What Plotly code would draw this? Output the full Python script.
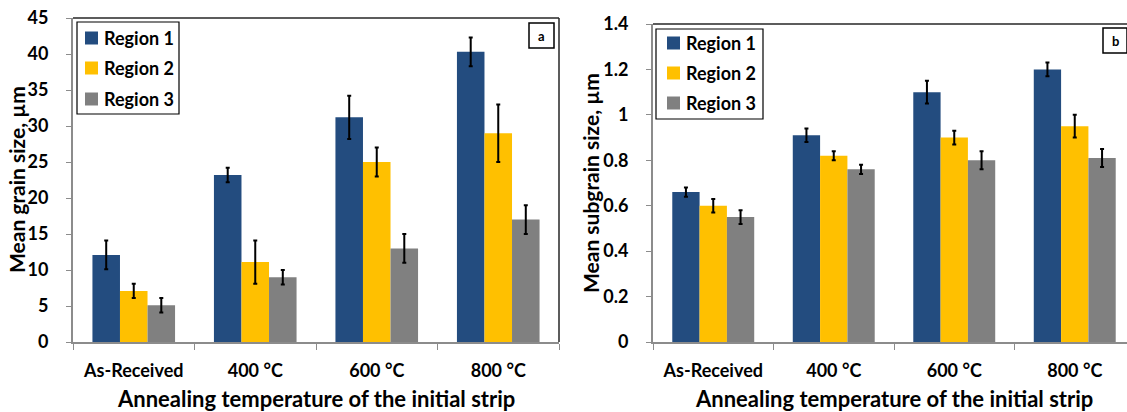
import plotly.graph_objects as go

W, H = 1127, 412

categories = ["As-Received", "400 °C", "600 °C", "800 °C"]
series_names = ["Region 1", "Region 2", "Region 3"]
colors = ["#234C7F", "#FFC000", "#808080"]

# Panel a: mean grain size (µm)
grain_r1 = [12.1, 23.2, 31.2, 40.3]
grain_r2 = [7.1, 11.1, 25.0, 29.0]
grain_r3 = [5.1, 9.0, 13.0, 17.0]
grain_err_r1 = [2, 1, 3, 2]
grain_err_r2 = [1, 3, 2, 4]
grain_err_r3 = [1, 1, 2, 2]

# Panel b: mean subgrain size (µm)
sub_r1 = [0.66, 0.91, 1.10, 1.20]
sub_r2 = [0.60, 0.82, 0.90, 0.95]
sub_r3 = [0.55, 0.76, 0.80, 0.81]
sub_err_r1 = [0.02, 0.03, 0.05, 0.03]
sub_err_r2 = [0.03, 0.02, 0.03, 0.05]
sub_err_r3 = [0.03, 0.02, 0.04, 0.04]

grain_ticks = [0, 5, 10, 15, 20, 25, 30, 35, 40, 45]
sub_ticks = [0, 0.2, 0.4, 0.6, 0.8, 1.0, 1.2, 1.4]
sub_tick_labels = ["0", "0.2", "0.4", "0.6", "0.8", "1", "1.2", "1.4"]

x_title = "Annealing temperature of the initial strip"
y_title_a = "Mean grain size, µm"
y_title_b = "Mean subgrain size, µm"

FONT = "Lato"


def fx(p):
    return p / W


def fy(p):
    return 1 - p / H


fig = go.Figure()

grain_vals = [grain_r1, grain_r2, grain_r3]
grain_errs = [grain_err_r1, grain_err_r2, grain_err_r3]
sub_vals = [sub_r1, sub_r2, sub_r3]
sub_errs = [sub_err_r1, sub_err_r2, sub_err_r3]

for name, col, v, e in zip(series_names, colors, grain_vals, grain_errs):
    fig.add_trace(go.Bar(
        x=categories, y=v, name=name, marker=dict(color=col, line=dict(width=0)),
        error_y=dict(type="data", array=e, color="black", thickness=2, width=2),
        xaxis="x", yaxis="y", showlegend=False,
    ))

for name, col, v, e in zip(series_names, colors, sub_vals, sub_errs):
    fig.add_trace(go.Bar(
        x=categories, y=v, name=name, marker=dict(color=col, line=dict(width=0)),
        error_y=dict(type="data", array=e, color="black", thickness=2, width=2),
        xaxis="x2", yaxis="y2", showlegend=False,
    ))

axis_grey = "#8C8C8C"
xtick_font = dict(family=FONT, size=18, color="black", weight="bold")
ytick_font = dict(family=FONT, size=18, color="black", weight="bold")

common_x = dict(
    type="category", showline=True, linecolor=axis_grey, linewidth=2,
    ticks="outside", tickson="boundaries", ticklen=6, tickcolor=axis_grey,
    tickwidth=1, tickfont=xtick_font, showgrid=False, zeroline=False,
    ticklabelstandoff=11, automargin=False,
)
common_y = dict(
    showline=True, linecolor=axis_grey, linewidth=2, ticks="outside",
    ticklen=5, tickcolor=axis_grey, tickwidth=1, tickfont=ytick_font,
    showgrid=False, zeroline=False, ticklabelstandoff=14, automargin=False,
)

right_cat_px = (1135 - 653) / 4.0
right_range_max = 3.5 - (1135 - W) / right_cat_px

fig.update_layout(
    width=W, height=H,
    margin=dict(l=0, r=0, t=0, b=0, autoexpand=False),
    paper_bgcolor="white", plot_bgcolor="white",
    barmode="group", bargap=0.32, bargroupgap=0,
    showlegend=False,
    xaxis=dict(domain=[fx(73), fx(559)], anchor="y", range=[-0.5, 3.5], **common_x),
    yaxis=dict(domain=[fy(342), fy(18)], anchor="x", range=[0, 45],
               tickvals=grain_ticks, **common_y),
    xaxis2=dict(domain=[fx(653), 1.0], anchor="y2", range=[-0.5, right_range_max], **common_x),
    yaxis2=dict(domain=[fy(342), fy(24)], anchor="x2", range=[0, 1.4],
                tickvals=sub_ticks, ticktext=sub_tick_labels, **common_y),
)

shapes = []
annotations = []

# frame lines (top and right) of each plot area
frame_col = "#262626"
shapes.append(dict(type="line", xref="x domain", yref="y domain", x0=0, x1=1, y0=1, y1=1,
                   line=dict(color=frame_col, width=1.5)))
shapes.append(dict(type="line", xref="x domain", yref="y domain", x0=1, x1=1, y0=0, y1=1,
                   line=dict(color=frame_col, width=1.5)))
shapes.append(dict(type="line", xref="x2 domain", yref="y2 domain", x0=0, x1=1, y0=1, y1=1,
                   line=dict(color=frame_col, width=1.5)))

xt_font = dict(family=FONT, size=22, color="black", weight="bold")
yt_font = dict(family=FONT, size=21, color="black", weight="bold")
annotations.append(dict(text=x_title, xref="paper", yref="paper", x=fx(316), y=fy(398),
                        xanchor="center", yanchor="middle", showarrow=False, font=xt_font))
annotations.append(dict(text=x_title, xref="paper", yref="paper", x=fx(894), y=fy(398),
                        xanchor="center", yanchor="middle", showarrow=False, font=xt_font))
annotations.append(dict(text=y_title_a, xref="paper", yref="paper", x=fx(16), y=fy(180),
                        xanchor="center", yanchor="middle", textangle=-90, showarrow=False,
                        font=yt_font))
annotations.append(dict(text=y_title_b, xref="paper", yref="paper", x=fx(590), y=fy(183),
                        xanchor="center", yanchor="middle", textangle=-90, showarrow=False,
                        font=yt_font))

# legends
legend_font = dict(family=FONT, size=18, color="black", weight="bold")
legend_specs = [
    dict(box=(77, 22, 179, 114), rows=[38, 68, 99], sw=(85, 98), tx=102),
    dict(box=(656, 29, 763, 119), rows=[43, 73, 103], sw=(667, 680), tx=684),
]
for spec in legend_specs:
    x0, y0, x1, y1 = spec["box"]
    shapes.append(dict(type="rect", xref="paper", yref="paper", x0=fx(x0), x1=fx(x1),
                       y0=fy(y0), y1=fy(y1), line=dict(color="black", width=1.2),
                       fillcolor="white", layer="above"))
    for name, col, ry in zip(series_names, colors, spec["rows"]):
        sx0, sx1 = spec["sw"]
        half = (sx1 - sx0) / 2
        shapes.append(dict(type="rect", xref="paper", yref="paper", x0=fx(sx0), x1=fx(sx1),
                           y0=fy(ry - half), y1=fy(ry + half), line=dict(width=0),
                           fillcolor=col, layer="above"))
        annotations.append(dict(text=name, xref="paper", yref="paper", x=fx(spec["tx"]),
                                y=fy(ry), xanchor="left", yanchor="middle", showarrow=False,
                                font=legend_font))

# panel labels
panel_font = dict(family=FONT, size=13, color="black", weight="bold")
for label, (bx0, by0, bx1, by1) in [("a", (529, 23, 554, 48)), ("b", (1103, 28, 1128, 53))]:
    shapes.append(dict(type="rect", xref="paper", yref="paper", x0=fx(bx0), x1=min(fx(bx1), 1.0),
                       y0=fy(by0), y1=fy(by1), line=dict(color="black", width=1.5),
                       fillcolor="white", layer="above"))
    annotations.append(dict(text=label, xref="paper", yref="paper", x=fx((bx0 + bx1) / 2),
                            y=fy((by0 + by1) / 2), xanchor="center", yanchor="middle",
                            showarrow=False, font=panel_font))

fig.update_layout(shapes=shapes, annotations=annotations)

fig.write_html("out.html")
